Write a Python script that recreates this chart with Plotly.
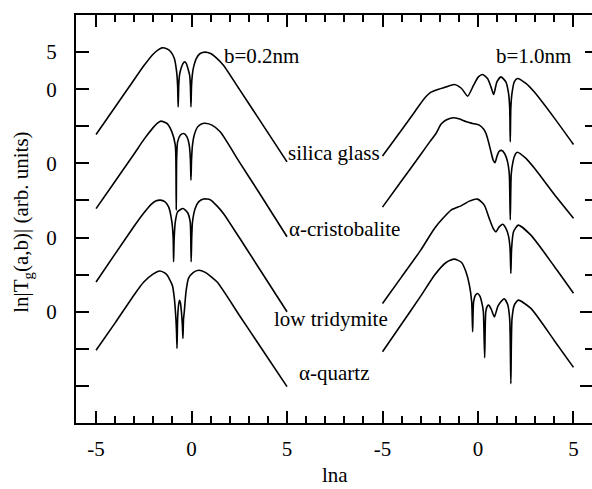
import plotly.graph_objects as go

# ---------------- data ----------------
# Left panel: b = 0.2 nm ; right panel: b = 1.0 nm.  x = ln a, y = ln|Tg(a,b)| (relative to each curve's own zero)
sg_l_x = [-5.0, -4.0, -3.0, -2.5, -2.0, -1.75, -1.55, -1.3, -1.11, -0.9, -0.78, -0.73, -0.70, -0.67, -0.63, -0.55, -0.45, -0.36, -0.27, -0.19, -0.10, -0.06, -0.03, 0.0, 0.04, 0.10, 0.25, 0.45, 0.72, 1.0, 1.24, 1.67, 2.5, 3.5, 5.0]
sg_l_y = [-6.1, -2.4, 1.3, 3.15, 4.75, 5.3, 5.57, 5.45, 5.12, 4.13, 2.33, 0.54, -2.4, 0.5, 1.9, 2.8, 3.45, 3.68, 3.45, 2.8, 1.9, 0.5, -2.4, 0.5, 1.9, 2.9, 4.13, 4.81, 5.0, 4.8, 4.36, 3.23, 0.0, -3.9, -9.8]

cr_l_x = [-5.0, -4.0, -3.0, -2.5, -2.0, -1.8, -1.6, -1.29, -1.03, -0.85, -0.82, -0.80, -0.78, -0.73, -0.59, -0.41, -0.24, -0.12, -0.06, -0.03, 0.0, 0.05, 0.14, 0.32, 0.54, 0.72, 1.07, 1.5, 2.5, 3.5, 5.0]
cr_l_y = [-6.1, -2.4, 1.3, 3.2, 4.85, 5.4, 5.69, 5.38, 4.25, 2.45, 0.5, -6.3, 0.5, 2.9, 3.8, 4.03, 3.57, 2.45, 0.5, -2.26, 0.5, 2.45, 3.8, 4.92, 5.35, 5.4, 5.15, 4.25, 0.2, -3.8, -9.9]

tr_l_x = [-5.0, -4.0, -3.0, -2.5, -2.1, -1.85, -1.64, -1.4, -1.2, -1.03, -0.96, -0.94, -0.91, -0.85, -0.73, -0.45, -0.21, -0.07, -0.04, -0.02, 0.01, 0.05, 0.19, 0.37, 0.63, 0.98, 1.33, 1.67, 2.5, 3.5, 5.0]
tr_l_y = [-6.0, -2.2, 1.55, 3.3, 4.5, 4.95, 5.04, 4.85, 4.14, 2.12, -0.12, -3.27, -0.12, 2.12, 3.46, 3.92, 3.38, 2.12, 0.0, -3.27, 0.0, 2.12, 3.92, 4.81, 5.2, 5.1, 4.27, 3.25, 0.0, -4.0, -10.0]

qz_l_x = [-5.0, -4.0, -3.0, -2.5, -2.0, -1.67, -1.45, -1.27, -1.1, -1.0, -0.9, -0.82, -0.79, -0.76, -0.73, -0.68, -0.63, -0.58, -0.53, -0.48, -0.45, -0.42, -0.38, -0.29, -0.16, 0.1, 0.37, 0.72, 1.33, 2.5, 3.5, 5.0]
qz_l_y = [-5.2, -1.5, 2.3, 4.0, 5.1, 5.5, 5.3, 4.93, 4.1, 3.5, 1.8, -0.9, -2.5, -4.95, -1.0, 0.89, 1.55, 1.2, 0.0, -1.8, -3.6, -1.0, 0.0, 2.68, 4.49, 5.3, 5.6, 5.3, 4.03, -0.47, -4.32, -10.1]

sg_r_x = [-5.0, -4.0, -3.3, -2.81, -2.46, -2.11, -1.67, -1.24, -0.86, -0.54, -0.23, 0.02, 0.24, 0.5, 0.68, 0.82, 0.99, 1.2, 1.46, 1.6, 1.66, 1.69, 1.72, 1.78, 1.9, 2.07, 2.51, 2.94, 4.0, 5.0]
sg_r_y = [-9.0, -5.5, -3.0, -1.26, -0.4, -0.04, 0.31, 0.63, 0.09, -0.94, 0.54, 1.66, 1.98, 1.44, 0.31, -0.72, 0.98, 1.66, 0.98, -0.58, -2.5, -7.1, -2.5, -0.58, 0.98, 1.44, 0.77, -0.36, -3.9, -7.45]

cr_r_x = [-5.0, -4.0, -3.0, -2.5, -2.2, -1.93, -1.67, -1.3, -1.0, -0.6, -0.28, 0.07, 0.3, 0.42, 0.55, 0.68, 0.8, 0.89, 1.0, 1.1, 1.23, 1.4, 1.55, 1.64, 1.69, 1.74, 1.83, 1.95, 2.05, 2.5, 3.0, 4.0, 5.0]
cr_r_y = [-5.9, -2.35, 1.2, 3.0, 4.03, 5.3, 5.85, 6.15, 6.0, 5.6, 5.38, 5.15, 4.6, 4.03, 2.9, 1.55, 0.4, 0.1, 1.0, 1.6, 1.75, 1.3, 0.2, -1.5, -7.6, -1.5, 0.2, 1.2, 1.5, 0.7, -0.8, -4.2, -7.4]

tr_r_x = [-5.0, -4.0, -3.0, -2.28, -1.8, -1.41, -0.89, -0.45, -0.02, 0.33, 0.59, 0.8, 0.94, 1.1, 1.29, 1.45, 1.6, 1.68, 1.72, 1.76, 1.86, 2.11, 2.77, 4.0, 5.0]
tr_r_y = [-8.9, -5.3, -1.7, 1.23, 2.7, 3.7, 4.27, 4.91, 5.18, 4.37, 2.57, 1.2, 0.77, 1.4, 1.8, 1.3, 0.2, -1.5, -4.84, -1.5, 0.77, 1.67, 0.32, -3.9, -7.5]

qz_r_x = [-5.0, -4.0, -3.0, -2.28, -1.67, -1.24, -0.86, -0.63, -0.45, -0.33, -0.28, -0.23, -0.12, -0.03, 0.1, 0.22, 0.28, 0.35, 0.41, 0.5, 0.56, 0.7, 0.86, 1.05, 1.37, 1.55, 1.66, 1.72, 1.78, 1.9, 2.11, 2.77, 4.0, 5.0]
qz_r_y = [-5.4, -1.65, 2.1, 4.93, 6.64, 7.09, 6.64, 5.38, 3.59, 1.33, -2.7, 1.33, 2.3, 2.46, 2.1, 1.0, 0.0, -6.2, 0.0, 0.8, 0.89, 0.3, -0.7, 0.8, 1.75, 1.0, -1.0, -9.7, -1.0, 0.9, 1.56, 0.45, -3.9, -7.5]

curve_offsets = [0, -10, -20, -30]          # vertical shift of each material's curve
panel_shift = [0, 15]                       # right panel drawn on a shifted ln a scale
curves_left = [(sg_l_x, sg_l_y), (cr_l_x, cr_l_y), (tr_l_x, tr_l_y), (qz_l_x, qz_l_y)]
curves_right = [(sg_r_x, sg_r_y), (cr_r_x, cr_r_y), (tr_r_x, tr_r_y), (qz_r_x, qz_r_y)]
materials = ["silica glass", "α-cristobalite", "low tridymite", "α-quartz"]

x_tickvals = [-5, 0, 5, 10, 15, 20]
x_ticktext = ["-5", "0", "5", "-5", "0", "5"]
y_tickvals = [5, 0, -10, -20, -30]
y_ticktext = ["5", "0", "0", "0", "0"]
y_plain_ticks = [-5, -15, -25, -35, -40]

FONT = "Liberation Serif"

fig = go.Figure()
for k in range(4):
    for panel, curves in enumerate([curves_left, curves_right]):
        xs, ys = curves[k]
        fig.add_trace(go.Scatter(
            x=[v + panel_shift[panel] for v in xs],
            y=[v + curve_offsets[k] for v in ys],
            mode="lines", name=materials[k],
            line=dict(color="black", width=1.6, shape="spline", smoothing=0.6),
            showlegend=False, hoverinfo="skip"))

# empty trace so the right-hand tick axis is drawn
fig.add_trace(go.Scatter(x=[None], y=[None], yaxis="y2", showlegend=False))

# labels
fig.add_annotation(x=1.57, y=4.45, xref="x", yref="y", text="b=0.2nm", showarrow=False,
                   xanchor="left", yanchor="middle", font=dict(size=21, family=FONT))
fig.add_annotation(x=15.86, y=4.45, xref="x", yref="y", text="b=1.0nm", showarrow=False,
                   xanchor="left", yanchor="middle", font=dict(size=21, family=FONT))
label_pos = [(4.93, -8.63), (4.98, -18.87), (4.2, -31.0), (5.5, -38.3)]
for name, (lx, ly) in zip(materials, label_pos):
    fig.add_annotation(x=lx, y=ly, xref="x", yref="y", text=name, showarrow=False,
                       xanchor="left", yanchor="middle", font=dict(size=21, family=FONT))

fig.add_annotation(x=-0.1047, y=0.493, xref="paper", yref="paper",
                   text="ln|T<sub>g</sub>(a,b)| (arb. units)", textangle=-90,
                   showarrow=False, xanchor="center", yanchor="middle",
                   font=dict(size=21, family=FONT))
fig.add_annotation(x=0.502, y=-0.128, xref="paper", yref="paper", text="lna",
                   showarrow=False, xanchor="center", yanchor="middle",
                   font=dict(size=21, family=FONT))

fig.update_layout(
    width=592, height=489,
    margin=dict(l=76, r=0, t=15, b=66),
    paper_bgcolor="white", plot_bgcolor="white",
    font=dict(family=FONT, size=21, color="black"),
    showlegend=False,
    xaxis=dict(range=[-6.05, 20.97], tickmode="array", tickvals=x_tickvals, ticktext=x_ticktext,
               ticks="inside", ticklen=12, tickwidth=1.5, tickcolor="black",
               minor=dict(tickmode="linear", tick0=0, dtick=1, ticks="inside", ticklen=7,
                          tickwidth=1.5, tickcolor="black"),
               showline=True, linewidth=2, linecolor="black", mirror="ticks",
               showgrid=False, zeroline=False, ticklabelstandoff=6,
               tickfont=dict(size=21, family=FONT)),
    yaxis=dict(range=[-45, 10], tickmode="array", tickvals=y_tickvals, ticktext=y_ticktext,
               ticks="inside", ticklen=13, tickwidth=1.5, tickcolor="black",
               minor=dict(tickmode="array", tickvals=y_plain_ticks, ticks="inside", ticklen=13,
                          tickwidth=1.5, tickcolor="black"),
               showline=True, linewidth=2, linecolor="black", mirror=False,
               showgrid=False, zeroline=False, ticklabelstandoff=13,
               tickfont=dict(size=21, family=FONT)),
    yaxis2=dict(range=[-45, 10], overlaying="y", side="right", tickmode="array",
                tickvals=[0, -10, -20, -30, -40], ticks="inside", ticklen=12, tickwidth=1.5,
                tickcolor="black", showticklabels=False, showline=False, showgrid=False,
                zeroline=False,
                minor=dict(tickmode="linear", tick0=5, dtick=10, ticks="inside", ticklen=7,
                           tickwidth=1.5, tickcolor="black")),
)

fig.write_html("out.html")
